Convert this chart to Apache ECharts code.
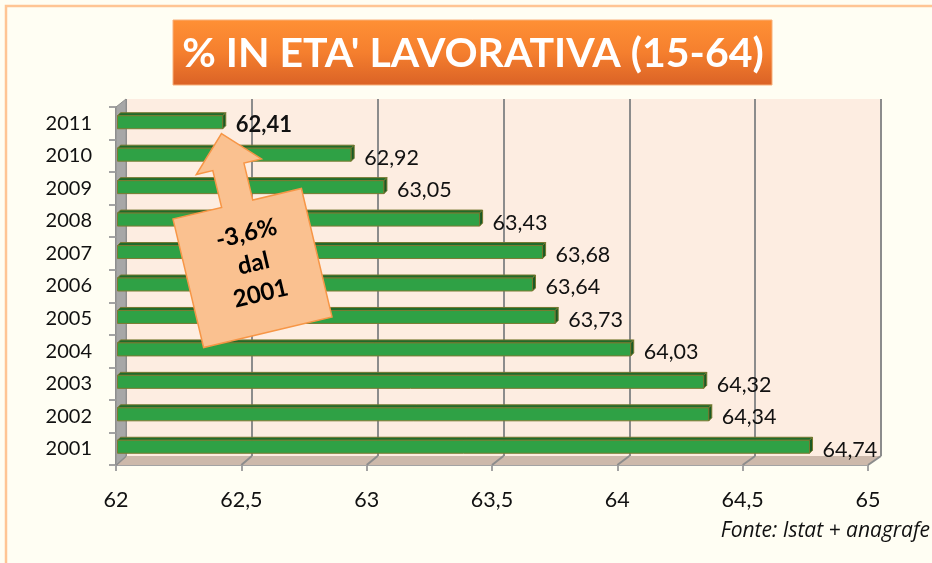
<!DOCTYPE html>
<html>
<head>
<meta charset="utf-8">
<script src="https://cdn.jsdelivr.net/npm/echarts@6/dist/echarts.min.js"></script>
<style>
  html, body { margin: 0; padding: 0; background: #FFFEF3; }
  #chart { width: 932px; height: 563px; }
</style>
</head>
<body>
<div id="chart"></div>
<script>
// dati
const years = ['2001', '2002', '2003', '2004', '2005', '2006', '2007', '2008', '2009', '2010', '2011'];
const values = [64.74, 64.34, 64.32, 64.03, 63.73, 63.64, 63.68, 63.43, 63.05, 62.92, 62.41];
const xMin = 62, xMax = 65, xStep = 0.5;
const titleText = "% IN ETA' LAVORATIVA (15-64)";
const noteText = ['-3,6%', 'dal', '2001'];
const sourceText = 'Fonte: Istat + anagrafe';

const FONT = 'Lato, "Open Sans", sans-serif';
const fmt = v => String(v).replace('.', ',');

const chart = echarts.init(document.getElementById('chart'));

// barra "3D": faccia frontale, faccia superiore, testata e etichetta
function renderBar(params, api) {
  const v = api.value(0), c = api.value(1);
  const end = api.coord([v, c]);
  const start = api.coord([xMin, c]);
  const x0 = start[0] - 2, x1 = end[0], cy = end[1];
  const h = 13, d = 3;
  const top = cy - h / 2, bot = cy + h / 2;
  const last = params.dataIndex === values.length - 1;
  return {
    type: 'group',
    children: [
      { type: 'polygon', shape: { points: [[x0, top], [x0 + d, top - d], [x1 + d, top - d], [x1, top]] },
        style: { fill: '#1F6B2B', stroke: '#76782F', lineWidth: 1 } },
      { type: 'rect', shape: { x: x0, y: top, width: x1 - x0, height: h },
        style: { fill: '#2FA145', stroke: '#7C7A32', lineWidth: 1 } },
      { type: 'polygon', shape: { points: [[x1, top], [x1 + d, top - d], [x1 + d, bot - d], [x1, bot]] },
        style: { fill: '#195A24', stroke: '#76782F', lineWidth: 1 } },
      { type: 'text', x: x1 + d + 10, y: cy + 3,
        style: { text: fmt(v), fill: '#111', font: (last ? 'bold 22px ' : '21.5px ') + FONT,
                 verticalAlign: 'middle', align: 'left' } }
    ]
  };
}

chart.setOption({
  backgroundColor: '#FFFEF3',
  animation: false,
  grid: [
    // parete di fondo
    { left: 126, right: 51, top: 99, bottom: 107, show: true, backgroundColor: '#FDEDE1', borderWidth: 0 },
    // piano frontale (assi)
    { left: 116, right: 64, top: 107, bottom: 98 },
    // piano delle barre
    { left: 119.5, right: 57, top: 106, bottom: 100 }
  ],
  xAxis: [
    { gridIndex: 0, type: 'value', min: xMin, max: xMax, interval: xStep,
      axisLine: { show: false }, axisTick: { show: false }, axisLabel: { show: false },
      splitLine: { lineStyle: { color: '#8C8C8C', width: 2 } } },
    { gridIndex: 1, type: 'value', min: xMin, max: xMax, interval: xStep,
      axisLine: { show: true, lineStyle: { color: '#A3A3A3', width: 2 } },
      axisTick: { show: true, length: 6, lineStyle: { color: '#A3A3A3', width: 2 } },
      axisLabel: { margin: 24, color: '#111', fontSize: 21.5, fontFamily: FONT, formatter: fmt },
      splitLine: { show: false } },
    { gridIndex: 2, type: 'value', min: xMin, max: xMax, show: false, splitLine: { show: false } }
  ],
  yAxis: [
    { gridIndex: 0, type: 'category', data: years, show: false },
    { gridIndex: 1, type: 'category', data: years,
      axisLine: { show: true, lineStyle: { color: '#8E8E8E', width: 2 } },
      axisTick: { show: true, length: 7, lineStyle: { color: '#A3A3A3', width: 2 } },
      axisLabel: { margin: 24, color: '#111', fontSize: 20, fontFamily: FONT, padding: [10, 0, 0, 0] } },
    { gridIndex: 2, type: 'category', data: years, show: false }
  ],
  series: [{
    type: 'custom',
    xAxisIndex: 2, yAxisIndex: 2,
    z: 5,
    renderItem: renderBar,
    encode: { x: 0, y: 1 },
    data: values.map((v, i) => [v, i])
  }]
});

// pavimento, parete sinistra, titolo, freccia, fonte
const backY = 456, frontY = 465;
const floorLines = [];
for (let v = xMin; v <= xMax + 1e-9; v += xStep) {
  const b = chart.convertToPixel({ xAxisIndex: 0 }, v);
  const f = chart.convertToPixel({ xAxisIndex: 1 }, v);
  floorLines.push({ type: 'line', z: 2, shape: { x1: b, y1: backY, x2: f, y2: frontY },
    style: { stroke: '#8C8C8C', lineWidth: 2 } });
}
const bL = chart.convertToPixel({ xAxisIndex: 0 }, xMin), bR = chart.convertToPixel({ xAxisIndex: 0 }, xMax);
const fL = chart.convertToPixel({ xAxisIndex: 1 }, xMin), fR = chart.convertToPixel({ xAxisIndex: 1 }, xMax);

const arrowPts = [[1, -138], [34, -104], [16, -104], [16, -66], [66, -66], [66, 66],
                  [-66, 66], [-66, -66], [-16, -66], [-16, -104], [-33, -104]];

chart.setOption({
  graphic: [
    { type: 'rect', z: 0, shape: { x: 6, y: 6, width: 1200, height: 1200 },
      style: { fill: 'none', stroke: '#FFC594', lineWidth: 2.5 } },
    { type: 'polygon', z: 1, shape: { points: [[fL, frontY], [bL, backY], [bR, backY], [fR, frontY]] },
      style: { fill: '#CDB9AB' } },
    ...floorLines,
    { type: 'polygon', z: 2, shape: { points: [[fL, 107], [bL, 99], [bL, backY], [fL, frontY]] },
      style: { fill: '#A7A7A7', stroke: '#8E8E8E', lineWidth: 1 } },
    { type: 'rect', z: 100, shape: { x: 173, y: 20, width: 599, height: 65 },
      style: { fill: new echarts.graphic.LinearGradient(0, 0, 0, 1, [
        { offset: 0, color: '#FF9035' }, { offset: 0.5, color: '#F57F2E' }, { offset: 1, color: '#DA6226' }]),
        stroke: '#F8B07A', lineWidth: 1 } },
    { type: 'text', z: 101, x: 473, y: 54,
      style: { text: titleText, fill: '#FFFFFF', font: 'bold 41px ' + FONT, align: 'center', verticalAlign: 'middle' } },
    { type: 'group', x: 252.5, y: 268, rotation: 0.234, children: [
      { type: 'polygon', z: 100, shape: { points: arrowPts },
        style: { fill: '#FAC190', stroke: '#F79646', lineWidth: 1.5 } },
      ...noteText.map((t, i) => ({ type: 'text', z: 101, x: 2, y: -35 + i * 31,
        style: { text: t, fill: '#000', font: 'bold 24px ' + FONT, align: 'center', verticalAlign: 'middle' } }))
    ] },
    { type: 'text', z: 100, right: 2, top: 521,
      style: { text: sourceText, fill: '#111', font: 'italic 21px "Open Sans", sans-serif' } }
  ]
});
</script>
</body>
</html>
